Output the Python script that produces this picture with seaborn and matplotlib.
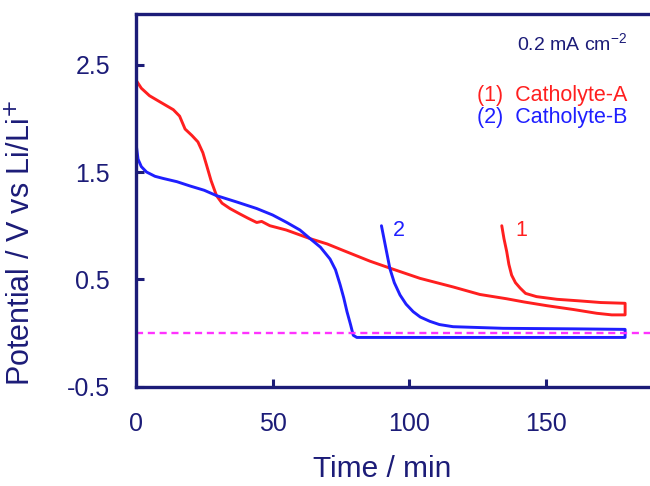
import numpy as np
import pandas as pd
import matplotlib
matplotlib.use("Agg")
import matplotlib.pyplot as plt
import seaborn as sns

# curve 1 (Catholyte-A): discharge, then the return branch read right-to-left
red_t = [0.2, 2, 5, 9, 13.7, 16, 18, 20.5, 22.7, 24.5, 25.9, 27.5, 29.5, 31.5, 34.4,
         38, 41, 44.2, 46, 49, 55, 63.7, 70, 75.8, 85.6, 93.5, 103.9, 116, 125.8,
         135.6, 142, 150.2, 160, 168.5, 174, 178.9, 178.9, 170, 162.4, 154,
         146.5, 142.5, 140.5, 138.8, 137.4, 136.4, 135.6, 134.6, 133.8]
red_v = [2.35, 2.28, 2.21, 2.15, 2.08, 2.02, 1.90, 1.84, 1.78, 1.68, 1.56, 1.42, 1.28, 1.21, 1.16,
         1.11, 1.07, 1.03, 1.04, 1.00, 0.96, 0.88, 0.83, 0.77, 0.67, 0.60, 0.51, 0.43, 0.36,
         0.32, 0.29, 0.256, 0.22, 0.185, 0.17, 0.17, 0.278, 0.285, 0.30, 0.315,
         0.34, 0.37, 0.42, 0.47, 0.54, 0.64, 0.76, 0.88, 1.00]

# curve 2 (Catholyte-B)
blue_t = [0.2, 0.8, 2, 3.9, 7, 10, 15, 19.8, 25, 29.5, 37, 44.2, 50, 55.2, 60, 63.7,
          67.5, 71, 73, 74.7, 76, 77.2, 78.5, 79.5, 80.8, 100, 130, 160, 178.9,
          178.9, 160, 134.3, 116, 111, 107.5, 104, 101.4, 98.8, 96.6, 94.5, 92.9,
          91.5, 89.8]
blue_v = [1.74, 1.62, 1.55, 1.50, 1.46, 1.44, 1.41, 1.37, 1.33, 1.28, 1.22, 1.16, 1.10, 1.03,
          0.96, 0.88, 0.80, 0.69, 0.59, 0.45, 0.33, 0.20, 0.08, -0.02, -0.04, -0.04, -0.04,
          -0.04, -0.04, 0.035, 0.04, 0.045, 0.06, 0.08, 0.11, 0.15, 0.20, 0.27, 0.355, 0.47,
          0.60, 0.78, 1.00]

x_ticks = [0, 50, 100, 150]
y_ticks = [-0.5, 0.5, 1.5, 2.5]

navy = "#1c1c78"
red = "#ff1f1f"
blue = "#1f1fff"

sns.set_style("ticks")
plt.rcParams["font.family"] = ["Liberation Sans", "DejaVu Sans"]

fig = plt.figure(figsize=(6.5, 4.86), dpi=100)
ax = fig.add_axes([0.209, 0.204, 0.791, 0.767])

red_df = pd.DataFrame({"t": red_t, "v": red_v})
blue_df = pd.DataFrame({"t": blue_t, "v": blue_v})
sns.lineplot(data=red_df, x="t", y="v", sort=False, estimator=None,
             color=red, lw=2.1, ax=ax)
sns.lineplot(data=blue_df, x="t", y="v", sort=False, estimator=None,
             color=blue, lw=2.1, ax=ax)
ax.axhline(0, color="#ff33ff", lw=1.7, ls=(0, (3, 2)))

ax.set_xlim(0, 188)
ax.set_ylim(-0.5, 2.97)
ax.set_xticks(x_ticks)
ax.set_yticks(y_ticks)
ax.set_yticklabels([f"{v:.1f}" for v in y_ticks])

for side in ["left", "bottom", "top"]:
    ax.spines[side].set_color(navy)
    ax.spines[side].set_linewidth(2.4)
ax.spines["right"].set_visible(False)
ax.tick_params(direction="in", length=6, width=2.2, color=navy,
               labelcolor=navy, labelsize=18)
ax.tick_params(axis="x", pad=18)
ax.tick_params(axis="y", pad=18.5)

ax.set_xlabel("Time / min", fontsize=21.5, color=navy)
ax.set_ylabel("Potential / V vs Li/Li$^{+}$", fontsize=22, color=navy)
ax.xaxis.set_label_coords(0.48, -0.182)
ax.yaxis.set_label_coords(-0.193, 0.386)

ax.text(179.6, 2.69, "0.2 mA cm$^{\\mathregular{-2}}$", color=navy, fontsize=14,
        ha="right", va="center")
ax.text(179.6, 2.21, "(1)  Catholyte-A", color=red, fontsize=15.5, ha="right", va="center")
ax.text(179.6, 2.01, "(2)  Catholyte-B", color=blue, fontsize=15.5, ha="right", va="center")
ax.text(96.2, 0.955, "2", color=blue, fontsize=15.5, ha="center", va="center")
ax.text(140.8, 0.955, "1", color=red, fontsize=15.5, ha="center", va="center")

fig.savefig("out.png", dpi=100)
